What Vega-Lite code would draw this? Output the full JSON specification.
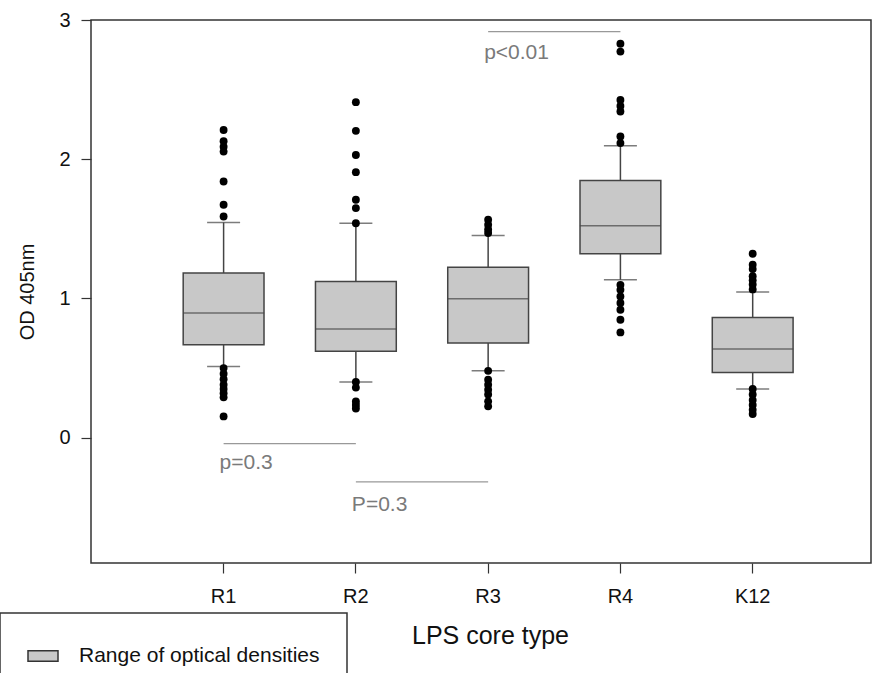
{
  "$schema": "https://vega.github.io/schema/vega-lite/v6.json",
  "autosize": "none",
  "width": 780,
  "height": 543,
  "padding": {"left": 91, "top": 20, "right": 7, "bottom": 110},
  "background": "white",
  "config": {
    "font": "Liberation Sans",
    "view": {"stroke": "#333", "strokeWidth": 1.5}
  },
  "datasets": {
    "boxes": [
      {"group": "R1", "lo": 0.512, "q1": 0.668, "median": 0.895, "q3": 1.183, "hi": 1.546},
      {"group": "R2", "lo": 0.40, "q1": 0.62, "median": 0.78, "q3": 1.122, "hi": 1.541},
      {"group": "R3", "lo": 0.481, "q1": 0.68, "median": 0.998, "q3": 1.225, "hi": 1.452},
      {"group": "R4", "lo": 1.134, "q1": 1.321, "median": 1.522, "q3": 1.847, "hi": 2.096},
      {"group": "K12", "lo": 0.35, "q1": 0.469, "median": 0.637, "q3": 0.864, "hi": 1.046}
    ],
    "outliers": [
      {"group": "R1", "od": 2.21}, {"group": "R1", "od": 2.13}, {"group": "R1", "od": 2.09}, {"group": "R1", "od": 2.055},
      {"group": "R1", "od": 1.84}, {"group": "R1", "od": 1.673}, {"group": "R1", "od": 1.589},
      {"group": "R1", "od": 0.50}, {"group": "R1", "od": 0.46}, {"group": "R1", "od": 0.42}, {"group": "R1", "od": 0.38},
      {"group": "R1", "od": 0.35}, {"group": "R1", "od": 0.32}, {"group": "R1", "od": 0.29}, {"group": "R1", "od": 0.153},
      {"group": "R2", "od": 2.41}, {"group": "R2", "od": 2.204}, {"group": "R2", "od": 2.03}, {"group": "R2", "od": 1.907},
      {"group": "R2", "od": 1.709}, {"group": "R2", "od": 1.649}, {"group": "R2", "od": 1.54},
      {"group": "R2", "od": 0.40}, {"group": "R2", "od": 0.36}, {"group": "R2", "od": 0.26}, {"group": "R2", "od": 0.235}, {"group": "R2", "od": 0.21},
      {"group": "R3", "od": 1.565}, {"group": "R3", "od": 1.53}, {"group": "R3", "od": 1.495}, {"group": "R3", "od": 1.47},
      {"group": "R3", "od": 0.48}, {"group": "R3", "od": 0.416}, {"group": "R3", "od": 0.38}, {"group": "R3", "od": 0.345},
      {"group": "R3", "od": 0.31}, {"group": "R3", "od": 0.261}, {"group": "R3", "od": 0.225},
      {"group": "R4", "od": 2.829}, {"group": "R4", "od": 2.773}, {"group": "R4", "od": 2.426}, {"group": "R4", "od": 2.383},
      {"group": "R4", "od": 2.343}, {"group": "R4", "od": 2.163}, {"group": "R4", "od": 2.116},
      {"group": "R4", "od": 1.098}, {"group": "R4", "od": 1.062}, {"group": "R4", "od": 1.014}, {"group": "R4", "od": 0.967},
      {"group": "R4", "od": 0.919}, {"group": "R4", "od": 0.847}, {"group": "R4", "od": 0.756},
      {"group": "K12", "od": 1.321}, {"group": "K12", "od": 1.242}, {"group": "K12", "od": 1.211}, {"group": "K12", "od": 1.16},
      {"group": "K12", "od": 1.13}, {"group": "K12", "od": 1.1}, {"group": "K12", "od": 1.065},
      {"group": "K12", "od": 0.35}, {"group": "K12", "od": 0.31}, {"group": "K12", "od": 0.27}, {"group": "K12", "od": 0.235},
      {"group": "K12", "od": 0.2}, {"group": "K12", "od": 0.17}
    ],
    "pvals": [
      {"from": "R1", "to": "R2", "lineY": -0.043, "textY": -0.18, "label": "p=0.3"},
      {"from": "R2", "to": "R3", "lineY": -0.318, "textY": -0.48, "label": "P=0.3"},
      {"from": "R3", "to": "R4", "lineY": 2.917, "textY": 2.764, "label": "p<0.01"}
    ]
  },
  "encoding": {
    "x": {
      "field": "group",
      "type": "nominal",
      "sort": ["R1", "R2", "R3", "R4", "K12"],
      "scale": {"domain": ["R1", "R2", "R3", "R4", "K12"], "paddingInner": 0.389, "paddingOuter": 0.643, "align": 0.542},
      "axis": {
        "title": "LPS core type",
        "labelAngle": 0,
        "domain": false,
        "tickSize": 10,
        "tickColor": "#333",
        "tickWidth": 1.2,
        "labelPadding": 13,
        "labelFontSize": 20,
        "labelColor": "#111",
        "titleFontSize": 25,
        "titleFontWeight": "normal",
        "titleColor": "#111",
        "titleX": 399,
        "titleY": 72,
        "titleBaseline": "middle"
      }
    }
  },
  "layer": [
    {
      "data": {"name": "boxes"},
      "mark": {"type": "rule", "color": "#444", "strokeWidth": 1.5},
      "encoding": {
        "y": {
          "field": "lo",
          "type": "quantitative",
          "scale": {"domain": [-0.9, 3], "nice": false, "zero": false},
          "axis": {
            "title": "OD 405nm",
            "values": [0, 1, 2, 3],
            "format": "d",
            "grid": false,
            "domain": false,
            "tickSize": 10,
            "tickColor": "#333",
            "tickWidth": 1.2,
            "labelPadding": 11,
            "labelFontSize": 20,
            "labelColor": "#111",
            "titleFontSize": 20,
            "titleFontWeight": "normal",
            "titleColor": "#111",
            "titleX": -64,
            "titleBaseline": "middle"
          }
        },
        "y2": {"field": "hi"}
      }
    },
    {
      "data": {"name": "boxes"},
      "mark": {"type": "bar", "stroke": "#444", "strokeWidth": 1.5},
      "encoding": {
        "y": {"field": "q1", "type": "quantitative"},
        "y2": {"field": "q3"},
        "fill": {
          "datum": "Range of optical densities",
          "scale": {"range": ["#c8c8c8"]},
          "legend": {
            "title": null,
            "orient": "none",
            "legendX": -91,
            "legendY": 593,
            "strokeColor": "#333",
            "padding": 27,
            "symbolType": "M-1,-0.35H1V0.35H-1Z",
            "symbolSize": 900,
            "symbolStrokeColor": "#333",
            "symbolStrokeWidth": 1.5,
            "labelFontSize": 21,
            "labelLimit": 500,
            "labelColor": "#111",
            "labelOffset": 20,
            "encode": {"legend": {"update": {"strokeWidth": {"value": 1.5}}}}
          }
        }
      }
    },
    {
      "data": {"name": "boxes"},
      "mark": {"type": "tick", "color": "#444", "size": 81, "thickness": 1.5},
      "encoding": {"y": {"field": "median", "type": "quantitative"}}
    },
    {
      "data": {"name": "boxes"},
      "mark": {"type": "tick", "color": "#444", "size": 33, "thickness": 1.5},
      "encoding": {"y": {"field": "lo", "type": "quantitative"}}
    },
    {
      "data": {"name": "boxes"},
      "mark": {"type": "tick", "color": "#444", "size": 33, "thickness": 1.5},
      "encoding": {"y": {"field": "hi", "type": "quantitative"}}
    },
    {
      "data": {"name": "outliers"},
      "mark": {"type": "circle", "color": "#000", "size": 62, "opacity": 1},
      "encoding": {"y": {"field": "od", "type": "quantitative"}}
    },
    {
      "data": {"name": "pvals"},
      "mark": {"type": "rule", "color": "#999", "strokeWidth": 1.3},
      "encoding": {
        "x": {"field": "from", "type": "nominal"},
        "x2": {"field": "to"},
        "y": {"field": "lineY", "type": "quantitative"}
      }
    },
    {
      "data": {"name": "pvals"},
      "mark": {"type": "text", "align": "left", "baseline": "middle", "dx": -4, "fontSize": 21, "color": "#7a7a7a"},
      "encoding": {
        "x": {"field": "from", "type": "nominal"},
        "y": {"field": "textY", "type": "quantitative"},
        "text": {"field": "label"}
      }
    }
  ]
}
